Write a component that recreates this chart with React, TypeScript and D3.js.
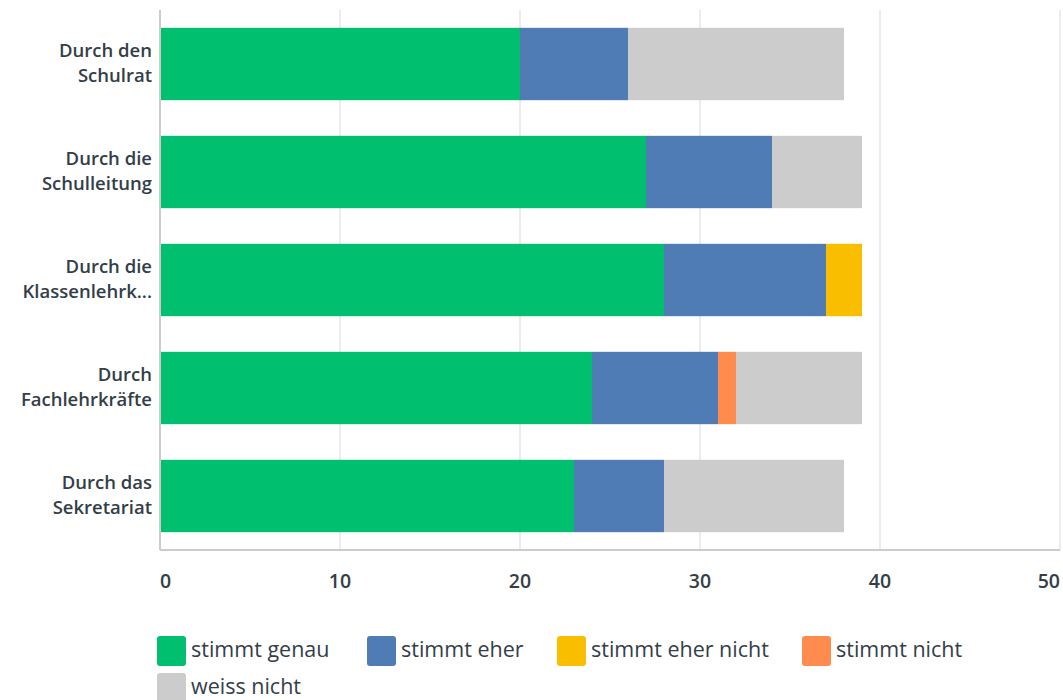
import React from "react";
import * as d3 from "d3";

const categories = [
  ["Durch den", "Schulrat"],
  ["Durch die", "Schulleitung"],
  ["Durch die", "Klassenlehrk..."],
  ["Durch", "Fachlehrkräfte"],
  ["Durch das", "Sekretariat"],
];
const seriesNames = ["stimmt genau", "stimmt eher", "stimmt eher nicht", "stimmt nicht", "weiss nicht"];
const seriesColors = ["#00bf6f", "#507cb6", "#f9be00", "#ff8b4f", "#cccccc"];
const stimmtGenau = [20, 27, 28, 24, 23];
const stimmtEher = [6, 7, 9, 7, 5];
const stimmtEherNicht = [0, 0, 2, 0, 0];
const stimmtNicht = [0, 0, 0, 1, 0];
const weissNicht = [12, 5, 0, 7, 10];
const xTicks = [0, 10, 20, 30, 40, 50];

const seriesValues = [stimmtGenau, stimmtEher, stimmtEherNicht, stimmtNicht, weissNicht];

export default function App() {
  const W = 1063, H = 700;
  const left = 160, right = 1060, top = 10, bottom = 550;
  const x = d3.scaleLinear().domain([0, 50]).range([left, right]);
  const y = d3.scaleBand<number>().domain(d3.range(categories.length)).range([top, bottom]).paddingInner(0.33).paddingOuter(0.165);

  const rows = categories.map((_, i) => {
    const obj: any = { i };
    seriesNames.forEach((s, j) => (obj[s] = seriesValues[j][i]));
    return obj;
  });
  const stack = d3.stack<any>().keys(seriesNames)(rows);
  const textColor = "#333e48";
  const font = "'Open Sans', 'Noto Sans', sans-serif";

  const legendPos = [
    { x: 157, y: 636 },
    { x: 367, y: 636 },
    { x: 557, y: 636 },
    { x: 802, y: 636 },
    { x: 157, y: 673 },
  ];

  return (
    <svg width={W} height={H} style={{ position: "absolute", left: 0, top: 0, background: "#fff" }} fontFamily={font}>
      {xTicks.slice(1).map((t) => (
        <line key={t} x1={x(t)} x2={x(t)} y1={top} y2={bottom} stroke="#ececec" strokeWidth={2} />
      ))}
      {stack.map((layer, j) => (
        <g key={j} fill={seriesColors[j]}>
          {layer.map((d, i) =>
            d[1] - d[0] > 0 ? (
              <rect key={i} x={x(d[0])} y={y(i)} width={x(d[1]) - x(d[0])} height={y.bandwidth()} />
            ) : null
          )}
        </g>
      ))}
      <line x1={left} x2={left} y1={top} y2={bottom} stroke="#cccccc" strokeWidth={2} />
      <line x1={left} x2={right} y1={bottom} y2={bottom} stroke="#cccccc" strokeWidth={2} />
      {xTicks.map((t, k) => (
        <text
          key={t}
          x={x(t)}
          y={588}
          textAnchor={k === 0 ? "start" : k === xTicks.length - 1 ? "end" : "middle"}
          fontSize={19.5}
          fontWeight={600}
          fill={textColor}
        >
          {t}
        </text>
      ))}
      {categories.map((c, i) => {
        const cy = (y(i) as number) + y.bandwidth() / 2;
        return (
          <text key={i} x={152} y={cy - 7} textAnchor="end" fontSize={18.5} fontWeight={600} fill={textColor}>
            <tspan x={152}>{c[0]}</tspan>
            <tspan x={152} dy={25}>{c[1]}</tspan>
          </text>
        );
      })}
      {seriesNames.map((s, j) => (
        <g key={s} transform={`translate(${legendPos[j].x},${legendPos[j].y})`}>
          <rect width={29} height={30} rx={3} fill={seriesColors[j]} />
          <text x={34} y={21} fontSize={21.5} fontWeight={500} fill={textColor}>
            {s}
          </text>
        </g>
      ))}
    </svg>
  );
}
